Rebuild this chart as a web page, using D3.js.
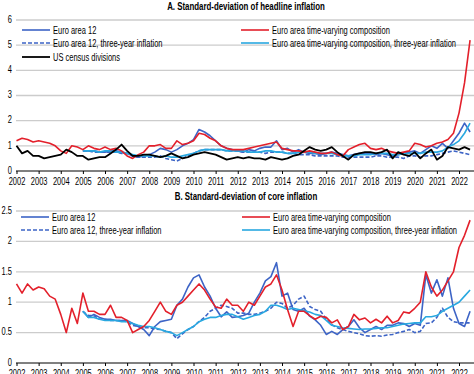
<!DOCTYPE html>
<html>
<head>
<meta charset="utf-8">
<script src="https://cdn.jsdelivr.net/npm/d3@7"></script>
<style>
  body { margin: 0; background: #fff; }
  svg { display: block; font-family: "Liberation Sans", Arial, sans-serif; }
</style>
</head>
<body>
<div class="visContainer"></div>
<script>
// Tick labels.
const years = d3.range(2002, 2023);
const ticksA = [0, 1, 2, 3, 4, 5, 6];
const ticksB = [0, 0.5, 1, 1.5, 2, 2.5];

// Quarterly readings. Red and black start in 2002, the euro area 12 series in 2005.
const startAll = 2002;
const startEA = 2005;

// Panel A: headline inflation.
const headRed = [1.2, 1.3, 1.25, 1.15, 1.2, 1.15, 1.1, 1.0, 0.8, 0.7, 1.0, 0.95,
  0.85, 1.0, 0.9, 0.85, 0.95, 0.85, 0.9, 0.8, 0.6, 0.5, 0.65, 0.75,
  1.0, 1.0, 1.05, 0.9, 0.9, 1.2, 1.05, 1.1, 1.2, 1.5, 1.45, 1.3,
  1.2, 1.0, 0.9, 0.85, 0.85, 0.85, 0.9, 0.95, 1.0, 1.05, 1.1, 1.15,
  0.9, 0.85, 0.8, 0.8, 0.75, 0.8, 0.75, 0.7, 0.7, 0.75, 0.65, 0.6,
  0.85, 0.95, 1.05, 1.1, 0.9, 0.85, 0.9, 0.8, 0.75, 0.7, 0.75, 0.8,
  1.1, 1.05, 0.95, 1.0, 1.1, 1.15, 1.25, 1.5, 2.3, 3.5, 5.2];
const headUS = [1.0, 0.7, 0.8, 0.6, 0.6, 0.5, 0.55, 0.6, 0.65, 0.85, 0.75, 0.6,
  0.6, 0.45, 0.5, 0.55, 0.55, 0.7, 0.85, 1.05, 0.8, 0.6, 0.6, 0.65,
  0.65, 0.6, 0.55, 0.6, 0.7, 0.6, 0.5, 0.55, 0.65, 0.7, 0.75, 0.7,
  0.65, 0.55, 0.45, 0.5, 0.55, 0.5, 0.55, 0.5, 0.5, 0.45, 0.55, 0.5,
  0.45, 0.5, 0.6, 0.65, 0.8, 0.95, 0.85, 0.8, 0.85, 0.95, 0.75, 0.6,
  0.45, 0.65, 0.7, 0.75, 0.75, 0.7, 0.75, 0.85, 0.5, 0.75, 0.65, 0.6,
  0.75, 0.5, 0.7, 0.85, 0.45, 0.6, 0.95, 0.9, 0.85, 0.95, 0.85];
const headEA12 = [0.8, 0.8, 0.8, 0.75, 0.75, 0.8, 0.8, 0.75, 0.7, 0.6, 0.55, 0.6,
  0.65, 0.75, 0.9, 0.85, 0.75, 0.85, 1.0, 1.1, 1.25, 1.65, 1.55, 1.4,
  1.2, 1.0, 0.9, 0.85, 0.8, 0.75, 0.85, 0.8, 0.9, 0.95, 0.95, 1.2,
  0.85, 0.9, 0.75, 0.85, 0.75, 0.7, 0.7, 0.65, 0.7, 0.75, 0.7, 0.65,
  0.6, 0.65, 0.7, 0.7, 0.7, 0.65, 0.7, 0.65, 0.6, 0.65, 0.7, 0.75,
  0.8, 0.7, 0.85, 1.0, 0.9, 1.1, 0.9, 1.2, 1.5, 1.9, 1.55];
const headEA12_3y = [0.8, 0.8, 0.75, 0.75, 0.75, 0.75, 0.75, 0.7, 0.7, 0.6, 0.55, 0.55,
  0.55, 0.55, 0.6, 0.5, 0.45, 0.4, 0.5, 0.6, 0.7, 0.8, 0.85, 0.85,
  0.85, 0.85, 0.8, 0.8, 0.8, 0.75, 0.75, 0.75, 0.75, 0.7, 0.75, 0.75,
  0.75, 0.7, 0.7, 0.65, 0.65, 0.65, 0.6, 0.6, 0.6, 0.6, 0.6, 0.55,
  0.55, 0.55, 0.55, 0.55, 0.55, 0.6, 0.6, 0.55, 0.55, 0.55, 0.5, 0.6,
  0.6, 0.55, 0.6, 0.6, 0.65, 0.7, 0.75, 0.8, 0.75, 0.7, 0.65];
const headTV_3y = [0.8, 0.8, 0.8, 0.75, 0.8, 0.8, 0.75, 0.75, 0.7, 0.65, 0.6, 0.6,
  0.6, 0.6, 0.55, 0.6, 0.55, 0.55, 0.6, 0.65, 0.7, 0.8, 0.85, 0.85,
  0.85, 0.85, 0.8, 0.8, 0.8, 0.8, 0.75, 0.75, 0.75, 0.8, 0.8, 0.75,
  0.75, 0.7, 0.7, 0.75, 0.75, 0.75, 0.7, 0.7, 0.7, 0.7, 0.65, 0.6,
  0.6, 0.6, 0.65, 0.65, 0.65, 0.7, 0.7, 0.7, 0.65, 0.65, 0.7, 0.7,
  0.7, 0.7, 0.75, 0.75, 0.75, 0.8, 0.95, 1.05, 1.2, 1.5, 1.9];

// Panel B: core inflation.
const coreRed = [1.3, 1.15, 1.3, 1.2, 1.25, 1.22, 1.1, 1.05, 0.8, 0.5, 0.9, 0.65,
  1.15, 0.85, 0.85, 0.8, 0.8, 0.95, 0.75, 0.75, 0.7, 0.5, 0.55, 0.6,
  0.7, 0.85, 1.0, 0.85, 0.8, 0.95, 1.0, 1.1, 1.2, 1.3, 1.2, 1.05,
  0.92, 0.9, 1.05, 0.95, 0.95, 0.85, 1.0, 0.95, 1.1, 1.25, 1.3, 1.45,
  1.2, 0.88, 0.6, 0.85, 0.85, 0.78, 0.72, 0.77, 0.75, 0.66, 0.71, 0.55,
  0.6, 0.8, 0.71, 0.74, 0.66, 0.72, 0.66, 0.77, 0.66, 0.7, 0.84, 0.82,
  0.9, 1.0, 1.5, 1.25, 1.1, 1.2, 1.35, 1.5, 1.9, 2.1, 2.35];
const coreEA12 = [0.85, 0.75, 0.8, 0.75, 0.72, 0.72, 0.7, 0.7, 0.7, 0.65, 0.6, 0.55,
  0.45, 0.6, 0.68, 0.7, 0.72, 0.95, 1.05, 1.25, 1.4, 1.45, 1.25, 1.1,
  0.9, 0.76, 0.84, 0.75, 0.76, 0.78, 0.82, 1.0, 1.15, 1.35, 1.42, 1.65,
  1.1, 1.15, 0.88, 0.85, 0.9, 0.77, 0.71, 0.62, 0.47, 0.52, 0.47, 0.55,
  0.6, 0.71, 0.58, 0.5, 0.55, 0.6, 0.55, 0.62, 0.62, 0.66, 0.65, 0.6,
  0.65, 0.62, 1.45, 1.15, 1.37, 1.1, 1.4, 0.9, 0.65, 0.6, 0.85];
const coreEA12_3y = [0.85, 0.78, 0.78, 0.72, 0.72, 0.7, 0.7, 0.7, 0.68, 0.62, 0.6, 0.58,
  0.58, 0.56, 0.55, 0.52, 0.5, 0.4, 0.48, 0.55, 0.6, 0.68, 0.75, 0.85,
  0.9, 0.95, 0.93, 0.9, 0.82, 0.82, 0.8, 0.8, 0.82, 0.85, 0.9, 1.0,
  0.98, 0.9, 0.95, 1.05, 1.1, 0.93, 0.88, 0.85, 0.72, 0.63, 0.58, 0.55,
  0.52, 0.5, 0.48, 0.45, 0.44, 0.45, 0.44, 0.46, 0.47, 0.5, 0.52, 0.55,
  0.5, 0.52, 0.65, 0.66, 0.75, 0.9, 0.75, 0.68, 0.66, 0.66, 0.66];
const coreTV_3y = [0.85, 0.75, 0.75, 0.72, 0.7, 0.7, 0.7, 0.68, 0.68, 0.65, 0.62, 0.6,
  0.6, 0.58, 0.55, 0.52, 0.5, 0.45, 0.5, 0.55, 0.6, 0.68, 0.72, 0.75,
  0.75, 0.78, 0.8, 0.8, 0.76, 0.72, 0.75, 0.78, 0.8, 0.85, 0.95, 0.95,
  0.92, 0.88, 0.9, 0.88, 0.86, 0.84, 0.8, 0.78, 0.7, 0.62, 0.6, 0.58,
  0.57, 0.56, 0.55, 0.56, 0.56, 0.57, 0.58, 0.58, 0.6, 0.62, 0.64, 0.65,
  0.66, 0.66, 0.76, 0.76, 0.78, 0.85, 0.9, 0.95, 1.0, 1.1, 1.2];

// Colours.
const blue = '#3d64c6';
const red = '#e3202b';
const cyan = '#29a8e0';

const width = 474;
const height = 374;
// No narrow font installed, so squeeze text horizontally.
const squeeze = 'scale(0.75,1)';

const svg = d3.select('.visContainer')
  .append('svg')
  .attr('width', width)
  .attr('height', height);

const xScale = d3.scaleLinear()
  .domain([2002, 2022])
  .range([16.5, 459]);

function toPoints(values, start) {
  return values.map((v, i) => ({ t: start + i * 0.25, v: v }));
}

function squeezedText(x, y, txt, size, anchor, bold) {
  const g = svg.append('g').attr('transform', 'translate(' + x + ',' + y + ')');
  g.append('text')
    .attr('transform', squeeze)
    .attr('text-anchor', anchor)
    .attr('dy', '0.35em')
    .attr('font-size', size)
    .attr('font-weight', bold ? 'bold' : null)
    .text(txt);
}

function panel(opts) {
  const yScale = d3.scaleLinear()
    .domain(opts.domain)
    .range(opts.range);

  // Title.
  squeezedText(246, opts.titleY, opts.title, '10.5px', 'middle', true);

  // Gridlines.
  svg.append('g')
    .selectAll('line')
    .data(opts.ticks.filter((d) => d > 0))
    .enter()
    .append('line')
    .attr('x1', 16)
    .attr('x2', width)
    .attr('y1', (d) => yScale(d))
    .attr('y2', (d) => yScale(d))
    .attr('stroke', '#cccccc')
    .attr('stroke-width', 1.3);

  // Y labels.
  const yAxis = d3.axisLeft(yScale)
    .tickValues(opts.ticks)
    .tickSize(0)
    .tickPadding(0)
    .tickFormat((d) => d3.format('')(d));
  const gy = svg.append('g')
    .attr('transform', 'translate(12,-1)')
    .call(yAxis);
  gy.select('.domain').remove();
  gy.selectAll('text')
    .attr('font-size', '10px')
    .attr('fill', '#000')
    .attr('x', 0)
    .attr('transform', squeeze);

  // X axis.
  const xAxis = d3.axisBottom(xScale)
    .tickValues(years)
    .tickSize(3)
    .tickSizeOuter(0)
    .tickPadding(4)
    .tickFormat(d3.format('d'));
  const gx = svg.append('g')
    .attr('transform', 'translate(0,' + opts.range[0] + ')')
    .call(xAxis);
  gx.select('.domain').remove();
  gx.selectAll('text')
    .attr('font-size', '10px')
    .attr('fill', '#000')
    .attr('transform', squeeze);
  gx.append('line')
    .attr('x1', 16)
    .attr('x2', width)
    .attr('stroke', '#000')
    .attr('stroke-width', 1);

  const line = d3.line()
    .x((d) => xScale(d.t))
    .y((d) => yScale(d.v));

  // Series.
  opts.series.forEach((s) => {
    svg.append('path')
      .datum(toPoints(s.values, s.start))
      .attr('fill', 'none')
      .attr('stroke', s.color)
      .attr('stroke-width', s.width)
      .attr('stroke-dasharray', s.dash || null)
      .attr('stroke-linejoin', 'round')
      .attr('d', line);
  });

  // Legend.
  opts.legend.forEach((l) => {
    svg.append('line')
      .attr('x1', l.x)
      .attr('x2', l.x + 28)
      .attr('y1', l.y)
      .attr('y2', l.y)
      .attr('stroke', l.color)
      .attr('stroke-width', l.width)
      .attr('stroke-dasharray', l.dash || null);
    squeezedText(l.x + 31, l.y, l.label, '10px', 'start', false);
  });
}

panel({
  title: 'A. Standard-deviation of headline inflation',
  titleY: 6,
  domain: [0, 6],
  range: [171, 20],
  ticks: ticksA,
  series: [
    { values: headEA12_3y, start: startEA, color: blue, width: 1.6, dash: '4,2' },
    { values: headEA12, start: startEA, color: blue, width: 1.6 },
    { values: headTV_3y, start: startEA, color: cyan, width: 1.6 },
    { values: headRed, start: startAll, color: red, width: 1.6 },
    { values: headUS, start: startAll, color: '#000', width: 1.8 }
  ],
  legend: [
    { x: 22, y: 30, color: blue, width: 1.6, label: 'Euro area 12' },
    { x: 22, y: 43, color: blue, width: 1.6, dash: '4,2', label: 'Euro area 12, three-year inflation' },
    { x: 22, y: 57, color: '#000', width: 1.8, label: 'US census divisions' },
    { x: 241, y: 30, color: red, width: 1.6, label: 'Euro area time-varying composition' },
    { x: 241, y: 43, color: cyan, width: 1.6, label: 'Euro area time-varying composition, three-year inflation' }
  ]
});

panel({
  title: 'B. Standard-deviation of core inflation',
  titleY: 196,
  domain: [0, 2.5],
  range: [363, 211],
  ticks: ticksB,
  series: [
    { values: coreEA12_3y, start: startEA, color: blue, width: 1.6, dash: '4,2' },
    { values: coreEA12, start: startEA, color: blue, width: 1.6 },
    { values: coreTV_3y, start: startEA, color: cyan, width: 1.6 },
    { values: coreRed, start: startAll, color: red, width: 1.6 }
  ],
  legend: [
    { x: 21, y: 217, color: blue, width: 1.6, label: 'Euro area 12' },
    { x: 21, y: 230, color: blue, width: 1.6, dash: '4,2', label: 'Euro area 12, three-year inflation' },
    { x: 242, y: 217, color: red, width: 1.6, label: 'Euro area time-varying composition' },
    { x: 242, y: 230, color: cyan, width: 1.6, label: 'Euro area time-varying composition, three-year inflation' }
  ]
});
</script>
</body>
</html>
